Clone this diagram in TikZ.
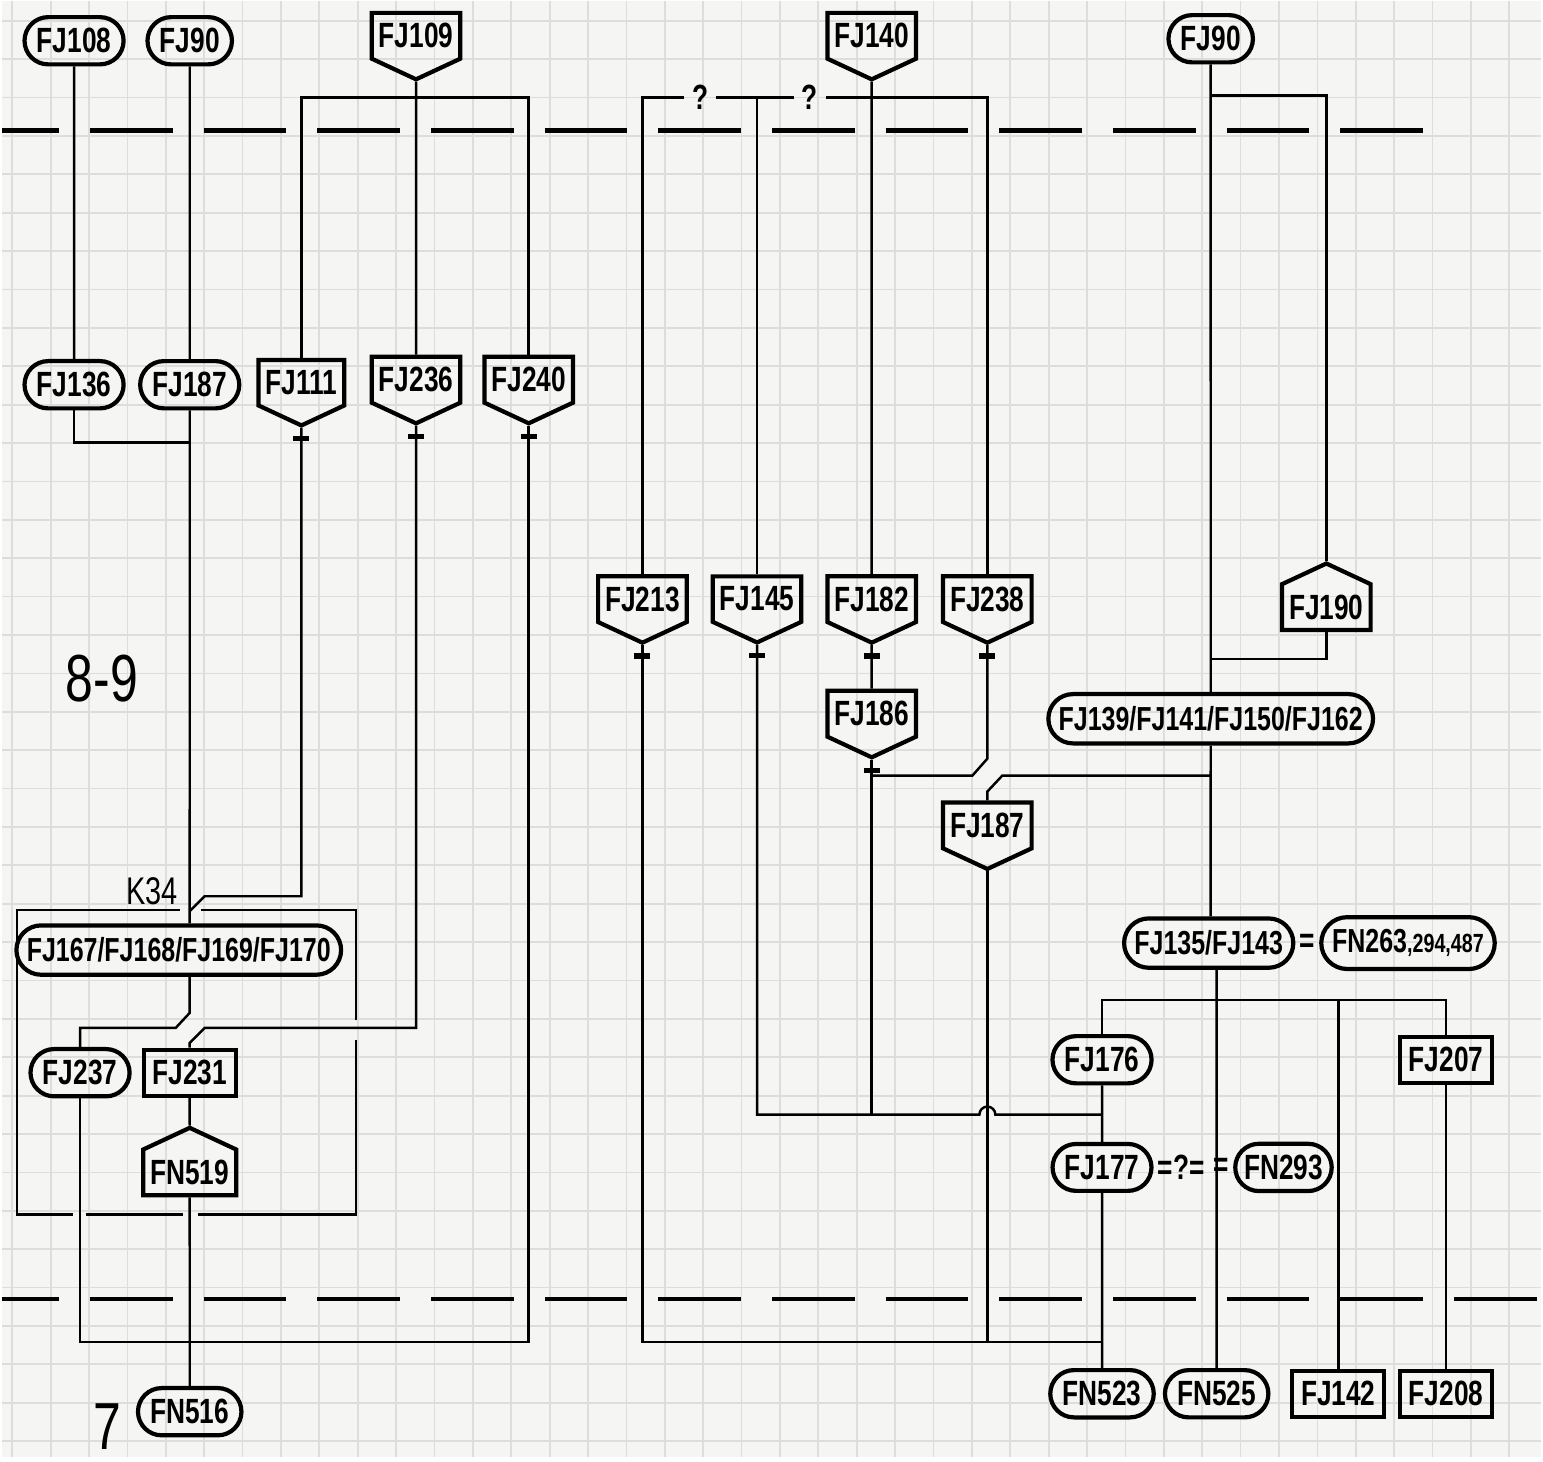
\documentclass[tikz,border=0pt]{standalone}
\usepackage{fontspec}
\newfontfamily\handfont[FakeStretch=0.75]{Liberation Sans}
\usepackage{tikz}
\usetikzlibrary{positioning,shapes.geometric,shapes.misc,shapes.symbols}
\definecolor{paper}{HTML}{F5F5F3}
\definecolor{gridc}{HTML}{DDDDDB}

\begin{document}
\begin{tikzpicture}[
    x=0.1mm, y=-0.1mm,
    every node/.style={font=\handfont\bfseries\fontsize{10}{12}\selectfont},
    oval/.style={draw,rounded rectangle,line width=1.2pt,inner xsep=2.5pt,inner ysep=3.2pt},
    multi/.style={draw,rounded rectangle,line width=1.2pt,inner xsep=2pt,inner ysep=3.5pt,
                  font=\handfont\bfseries\fontsize{9.5}{11}\selectfont},
    cut/.style={draw,signal,signal to=south,signal pointer angle=130,line width=1.2pt,
                inner xsep=2pt,inner ysep=3pt},
    house/.style={draw,signal,signal to=north,signal pointer angle=130,line width=1.2pt,
                  inner xsep=2pt,inner ysep=3pt},
    box/.style={draw,rectangle,line width=1.2pt,inner xsep=2.5pt,inner ysep=3pt},
    pen/.style={font=\handfont\fontsize{#1}{#1}\selectfont},
    link/.style={line width=0.7pt},
    horizon/.style={line width=1.3pt,dash pattern=on 8.3mm off 3.1mm,dash phase=2.6mm},
    negmark/.style={line width=1.5pt},
  ]
    % graph paper
    \fill[paper] (0,0) rectangle (1543,1460);
    \foreach \gx in {10,48.5,...,1543} \draw[gridc,line width=0.5pt] (\gx,0) -- (\gx,1460);
    \foreach \gy in {20,58.5,...,1460} \draw[gridc,line width=0.5pt] (0,\gy) -- (1543,\gy);

    % horizons
    \draw[horizon] (0,130) -- (1425,130);
    \draw[horizon] (0,1302) -- (1543,1302);

    % left block
    \node[oval] (FJ108) at (72,40) {FJ108};
    \node[oval] (FJ90a) at (188,40) {FJ90};
    \node[cut] (FJ109) at (415,35) {FJ109};
    \node[oval] (FJ136) at (72,385) {FJ136};
    \node[oval] (FJ187a) at (188,385) {FJ187};
    \node[cut] (FJ111) at (300,383) {FJ111};
    \node[cut] (FJ236) at (415,380) {FJ236};
    \node[cut] (FJ240) at (528,380) {FJ240};
    \node[pen=11] (K34) at (150,893) {K34};
    \node[multi] (G167) at (177,952) {FJ167/FJ168/FJ169/FJ170};
    \node[oval] (FJ237) at (78,1075) {FJ237};
    \node[box] (FJ231) at (188,1075) {FJ231};
    \node[house] (FN519) at (188,1175) {FN519};
    \node[oval] (FN516) at (188,1415) {FN516};
    \node[pen=19] (P89) at (100,680) {8-9};
    \node[pen=19] (P7) at (105,1430) {7};

    % right block
    \node[cut] (FJ140) at (872,35) {FJ140};
    \node[oval] (FJ90b) at (1212,38) {FJ90};
    \node[inner sep=2pt] (q1) at (700,97) {?};
    \node[inner sep=2pt] (q2) at (810,97) {?};
    \node[cut] (FJ213) at (642,600) {FJ213};
    \node[cut] (FJ145) at (757,600) {FJ145};
    \node[cut] (FJ182) at (872,600) {FJ182};
    \node[cut] (FJ238) at (988,600) {FJ238};
    \node[house] (FJ190) at (1328,608) {FJ190};
    \node[cut] (FJ186) at (872,715) {FJ186};
    \node[multi] (G139) at (1212,720) {FJ139/FJ141/FJ150/FJ162};
    \node[cut] (FJ187b) at (988,827) {FJ187};
    \node[multi] (G135) at (1210,945) {FJ135/FJ143};
    \node[right=1pt of G135,inner sep=0pt] (eqA) {=};
    \node[multi,right=1pt of eqA] (FN263) {FN263{\fontsize{7.5}{8}\selectfont,294,487}};
    \node[oval] (FJ176) at (1103,1062) {FJ176};
    \node[box] (FJ207) at (1448,1062) {FJ207};
    \node[oval] (FJ177) at (1103,1170) {FJ177};
    \node[right=1pt of FJ177,inner sep=0pt] (eqB) {=?=};
    \node[oval,inner xsep=1.5pt] (FN293) at (1285,1170) {FN293};
    \node[left=1pt of FN293,inner sep=0pt] (eqC) {=};
    \node[oval] (FN523) at (1103,1397) {FN523};
    \node[oval] (FN525) at (1218,1397) {FN525};
    \node[box] (FJ142) at (1340,1397) {FJ142};
    \node[box] (FJ208) at (1448,1397) {FJ208};

    \coordinate (b109) at (415,97);
    \coordinate (j136) at (188,443);
    \coordinate (k1) at (203,898);
    \coordinate (k2) at (188,913);
    \coordinate (k3) at (188,1015);
    \coordinate (k4) at (174,1030);
    \coordinate (k5) at (203,1030);
    \coordinate (k6) at (188,1045);
    \coordinate (b516) at (188,1345);
    \coordinate (k7) at (988,760);
    \coordinate (k8) at (973,777);
    \coordinate (b90) at (1212,95);
    \coordinate (j190) at (1212,660);
    \coordinate (k9) at (1212,777);
    \coordinate (k10) at (1003,777);
    \coordinate (k11) at (988,793);
    \coordinate (j177) at (1103,1117);
    \coordinate (hop) at (980,1117);
    \coordinate (b523) at (1103,1345);
    \coordinate (b135) at (1218,1002);

    % left connectors
    \draw[link] (FJ108) -- (FJ136);
    \draw[link] (FJ90a) -- (FJ187a);
    \draw[link] (FJ109) -- (FJ236);
    \draw[link] (FJ111.north) |- (b109) -| (FJ240.north);
    \draw[link] (FJ136.south) |- (j136);
    \draw[link] (FJ187a) -- (G167.north -| FJ187a);
    \draw[link] (FJ111.south) |- (k1) -- (k2);
    \draw[link] (G167.south -| k3) -- (k3) -- (k4) -| (FJ237.north);
    \draw[link] (FJ236.south) |- (k5) -- (k6) -- (FJ231.north);
    \draw[link] (FJ237.south) |- (b516) -| (FJ240.south);
    \draw[link] (FJ231) -- (FN519);
    \draw[link] (FN519) -- (FN516);
    % K34 frame
    \draw[link] (178,912) -| (15,1217) -- (71,1217);
    \draw[link] (84,1217) -- (181,1217);
    \draw[link] (199,912) -| (355,1022);
    \draw[link] (355,1042) |- (196,1217);

    % right connectors
    \draw[link] (FJ140) -- (FJ182);
    \draw[link] (FJ213.north) |- (q1.west);
    \draw[link] (q1.east) -- (q2.west);
    \draw[link] (q2.east) -| (FJ238.north);
    \draw[link] (FJ145.north) -- (FJ145.north |- q1);
    \draw[link] (FJ182) -- (FJ186);
    \draw[link] (FJ238.south) -- (k7) -- (k8) -- (k8 -| FJ186.south);
    \draw[link] (FJ90b) -- (G139);
    \draw[link] (b90) -| (FJ190.north);
    \draw[link] (FJ190.south) |- (j190);
    \draw[link] (G139) -- (G139.south |- G135.north);
    \draw[link] (k9) -- (k10) -- (k11) -- (FJ187b.north);
    \draw[link] (FJ213.south) |- (b523);
    \draw[link] (FJ187b.south) -- (FJ187b.south |- b523);
    \draw[link] (FJ186.south) -- (FJ186.south |- j177);
    \draw[link] (FJ145.south) |- (hop) arc[start angle=180,end angle=360,radius=8] -- (j177);
    \draw[link] (FJ176) -- (FJ177);
    \draw[link] (FJ177) -- (FN523);
    \draw[link] (FJ176.north) |- (b135) -| (FJ207.north);
    \draw[link] (G135.south -| b135) -- (FN525);
    \draw[link] (FJ142.north) -- (FJ142.north |- b135);
    \draw[link] (FJ207) -- (FJ208);

    % negative marks under cuts
    \foreach \n in {FJ111,FJ236,FJ240,FJ213,FJ145,FJ182,FJ238,FJ186}
      \draw[negmark] ([shift={(-8,11)}]\n.south) -- ++(16,0);
  \end{tikzpicture}
\end{document}
